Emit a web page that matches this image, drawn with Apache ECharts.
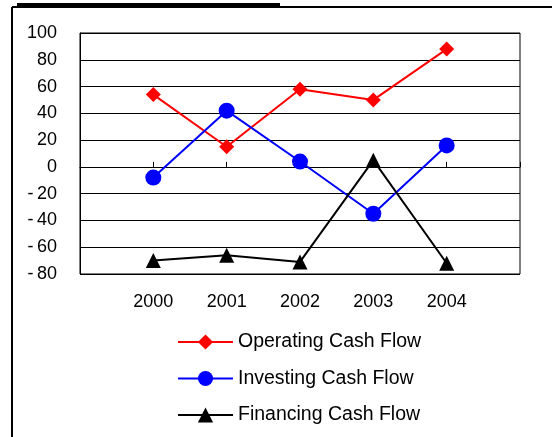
<!DOCTYPE html>
<html>
<head>
<meta charset="utf-8">
<script src="https://cdn.jsdelivr.net/npm/echarts@6/dist/echarts.min.js"></script>
<style>
  html, body { margin: 0; padding: 0; background: #fff; }
  #chart { width: 552px; height: 437px; }
</style>
</head>
<body>
<div id="chart"></div>
<script>
// chart data
const years = [2000, 2001, 2002, 2003, 2004]
const operatingCF = [54, 15, 58, 50, 88]
const investingCF = [-8, 42, 4, -35, 16]
const financingCF = [-70, -66, -71, 5, -72]
const seriesNames = ['Operating Cash Flow', 'Investing Cash Flow', 'Financing Cash Flow']
const yTicks = [-80, -60, -40, -20, 0, 20, 40, 60, 80, 100]

const font = 'Liberation Sans, Arial, sans-serif'

function pairs(values) {
  return years.map((y, i) => [y, values[i]])
}

const chart = echarts.init(document.getElementById('chart'), null, { renderer: 'canvas' })

chart.setOption({
  animation: false,
  backgroundColor: '#fff',
  textStyle: { fontFamily: font },
  grid: {
    left: 80,
    right: 32,
    top: 33,
    bottom: 163,
    show: true,
    borderColor: '#000',
    borderWidth: 1,
    backgroundColor: 'transparent'
  },
  xAxis: [
    {
      // labels along the bottom
      type: 'value',
      position: 'bottom',
      min: 1999,
      max: 2005,
      interval: 1,
      axisLine: { show: false, onZero: false },
      axisTick: { show: false },
      splitLine: { show: false },
      axisLabel: {
        margin: 19,
        color: '#000',
        fontSize: 18,
        fontFamily: font,
        formatter: v => (years.indexOf(v) >= 0 ? String(v) : '')
      }
    },
    {
      // axis line crossing at zero
      type: 'value',
      position: 'bottom',
      min: 1999,
      max: 2005,
      interval: 1,
      axisLine: { show: true, onZero: true, lineStyle: { color: '#000', width: 1 } },
      axisTick: { show: true, inside: true, length: 5, lineStyle: { color: '#000' } },
      splitLine: { show: false },
      axisLabel: { show: false }
    }
  ],
  yAxis: {
    type: 'value',
    min: yTicks[0],
    max: yTicks[yTicks.length - 1],
    interval: 20,
    axisLine: { show: true, lineStyle: { color: '#000' } },
    axisTick: { show: false },
    splitLine: { show: true, lineStyle: { color: '#000', width: 1 } },
    axisLabel: {
      margin: 23,
      color: '#000',
      fontSize: 18,
      fontFamily: font,
      formatter: v => (v < 0 ? '-\u2009' + Math.abs(v) : String(v))
    }
  },
  legend: {
    orient: 'vertical',
    left: 172,
    top: 327,
    itemWidth: 55,
    itemHeight: 19,
    itemGap: 16.5,
    textStyle: { fontSize: 19.5, color: '#000', fontFamily: font },
    data: seriesNames
  },
  graphic: [
    // outer frame (left and top edges)
    { type: 'line', shape: { x1: 12, y1: 7, x2: 552, y2: 7 }, style: { stroke: '#000', lineWidth: 2 } },
    { type: 'line', shape: { x1: 12, y1: 7, x2: 12, y2: 437 }, style: { stroke: '#000', lineWidth: 2 } },
    // underline of the clipped title
    { type: 'rect', shape: { x: 17, y: 3, width: 263, height: 3 }, style: { fill: '#000' } }
  ],
  series: [
    {
      name: seriesNames[0],
      type: 'line',
      xAxisIndex: 0,
      data: pairs(operatingCF),
      symbol: 'diamond',
      symbolSize: 15,
      itemStyle: { color: '#ff0000' },
      lineStyle: { color: '#ff0000', width: 2 }
    },
    {
      name: seriesNames[1],
      type: 'line',
      xAxisIndex: 0,
      data: pairs(investingCF),
      symbol: 'circle',
      symbolSize: 16,
      itemStyle: { color: '#0000ff' },
      lineStyle: { color: '#0000ff', width: 2 }
    },
    {
      name: seriesNames[2],
      type: 'line',
      xAxisIndex: 0,
      data: pairs(financingCF),
      symbol: 'triangle',
      symbolSize: 15,
      itemStyle: { color: '#000' },
      lineStyle: { color: '#000', width: 2 }
    }
  ]
})
</script>
</body>
</html>
